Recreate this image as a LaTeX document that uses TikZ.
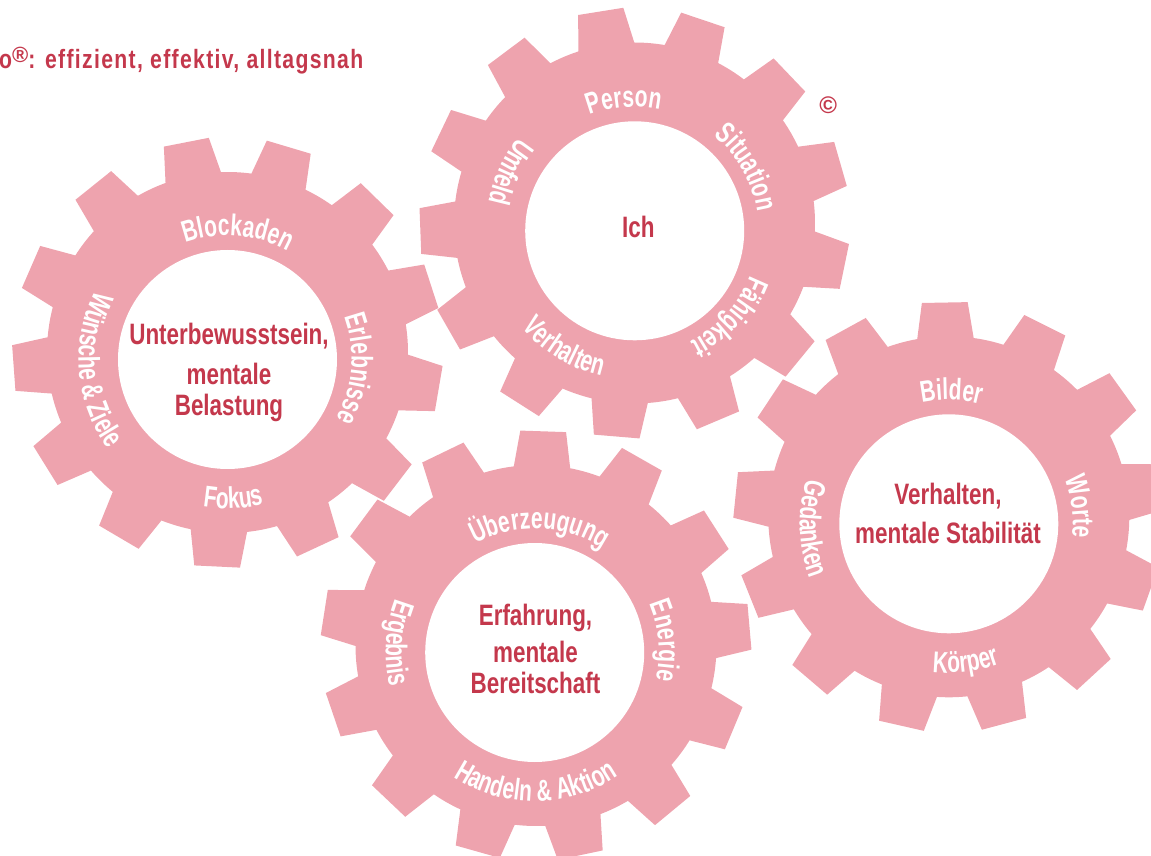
\documentclass[tikz,border=0pt]{standalone}
\usepackage{fontspec}
\setmainfont{Liberation Sans}
\newfontfamily\cfont{Liberation Sans}[FakeStretch=0.76]
\newfontfamily\lfont{Liberation Sans}[FakeStretch=0.7]
\newfontfamily\tfont{Liberation Sans}[FakeStretch=0.8,LetterSpace=5]
\newfontfamily\cpfont{Liberation Sans}
\usetikzlibrary{decorations.text}
\definecolor{gearpink}{RGB}{238,163,174}
\definecolor{textred}{RGB}{196,56,76}
\newcommand\lbl{\lfont\bfseries\fontsize{30}{30}\selectfont\color{white}}
% clockwise label (letter tops outward)
\newcommand\cwlab[3]{\path[decorate,shift={(#1)},decoration={text along path,text align=center,text={|\lbl|#3}}] ({#2+70}:124) arc[start angle={#2+70},end angle={#2-70},radius=124];}
% counter-clockwise label (letter tops inward)
\newcommand\ccwlab[3]{\path[decorate,shift={(#1)},decoration={text along path,text align=center,text={|\lbl|#3}}] ({#2-70}:149) arc[start angle={#2-70},end angle={#2+70},radius=149];}
% gear outline: centre coordinate, phase
\newcommand\gearshape[2]{\fill[gearpink,shift={(#1)}] ({#2-9}:180.5)
  \foreach \k [evaluate=\k as \a using #2+\k*360/13] in {0,...,12}{
    -- ({\a-9}:180.5) -- ({\a-6.1}:215.5) -- ({\a+6.1}:215.5) -- ({\a+9}:180.5)
    arc[start angle={\a+9},end angle={\a+360/13-9},radius=180.5]
  } -- cycle;}
\tikzset{
  ctext/.style={text=textred,font=\cfont\bfseries\fontsize{29.5}{29.5}\selectfont,inner sep=0,anchor=base},
  hole/.style={fill=white},
}
\begin{document}
\begin{tikzpicture}[x=1pt,y=1pt]
\useasboundingbox (0,0) rectangle (1151,855);
\clip (0,0) rectangle (1151,855);
% centres
\coordinate (G1) at (227.5,502.5); \coordinate (H1) at (227.5,495.5);
\coordinate (G2) at (634.5,632);   \coordinate (H2) at (634.7,624.2);
\coordinate (G3) at (536,209.5);   \coordinate (H3) at (534.7,202.5);
\coordinate (G4) at (948.8,338.2); \coordinate (H4) at (948.8,331.2);
% gears
\gearshape{G1}{18}
\gearshape{G2}{16}
\gearshape{G3}{5}
\gearshape{G4}{8}
% holes
\fill[hole] (H1) circle[radius=109.5];
\fill[hole] (H2) circle[radius=109.5];
\fill[hole] (H3) circle[radius=109.5];
\fill[hole] (H4) circle[radius=109.5];
% ring labels
\cwlab{H1}{85.4}{Blockaden}
\cwlab{H1}{-4.3}{Erlebnisse}
\ccwlab{H1}{-87.6}{Fokus}
\ccwlab{H1}{184.6}{Wünsche {\&} Ziele}
\cwlab{H2}{94.7}{Person}
\cwlab{H2}{29.6}{Situation}
\cwlab{H2}{-42.2}{Fähigkeit}
\ccwlab{H2}{238.9}{Verhalten}
\ccwlab{H2}{155}{Umfeld}
\cwlab{H3}{87.7}{Überzeugung}
\cwlab{H3}{5.2}{Energie}
\ccwlab{H3}{-89.5}{Handeln {\&} Aktion}
\ccwlab{H3}{176}{Ergebnis}
\cwlab{H4}{88.8}{Bilder}
\cwlab{H4}{7.6}{Worte}
\ccwlab{H4}{-83.1}{Körper}
\ccwlab{H4}{182}{Gedanken}
% centre texts
\node[ctext] (t1a) at (229,510) {Unterbewusstsein,};
\node[ctext] (t1b) at (229,470) {mentale};
\node[ctext] (t1c) at (229,439) {Belastung};
\node[ctext] (t2) at (638.3,617.7) {Ich};
\node[ctext] (t3a) at (535.5,230) {Erfahrung,};
\node[ctext] (t3b) at (535.5,192.7) {mentale};
\node[ctext] (t3c) at (535.5,161.7) {Bereitschaft};
\node[ctext] (t4a) at (948,350) {Verhalten,};
\node[ctext] (t4b) at (948,311.7) {mentale Stabilität};
% title and copyright
\node[anchor=base west,inner sep=0,text=textred,font=\tfont\bfseries\fontsize{26.5}{26.5}\selectfont] (title) at (-1,786.7) {o\raisebox{6pt}{\cpfont\bfseries\fontsize{22}{22}\selectfont ®}: effizient, effektiv, alltagsnah};
\node[inner sep=0,text=textred,font=\cpfont\bfseries\fontsize{24}{24}\selectfont] (copy) at (828.3,750) {©};
\end{tikzpicture}
\end{document}
